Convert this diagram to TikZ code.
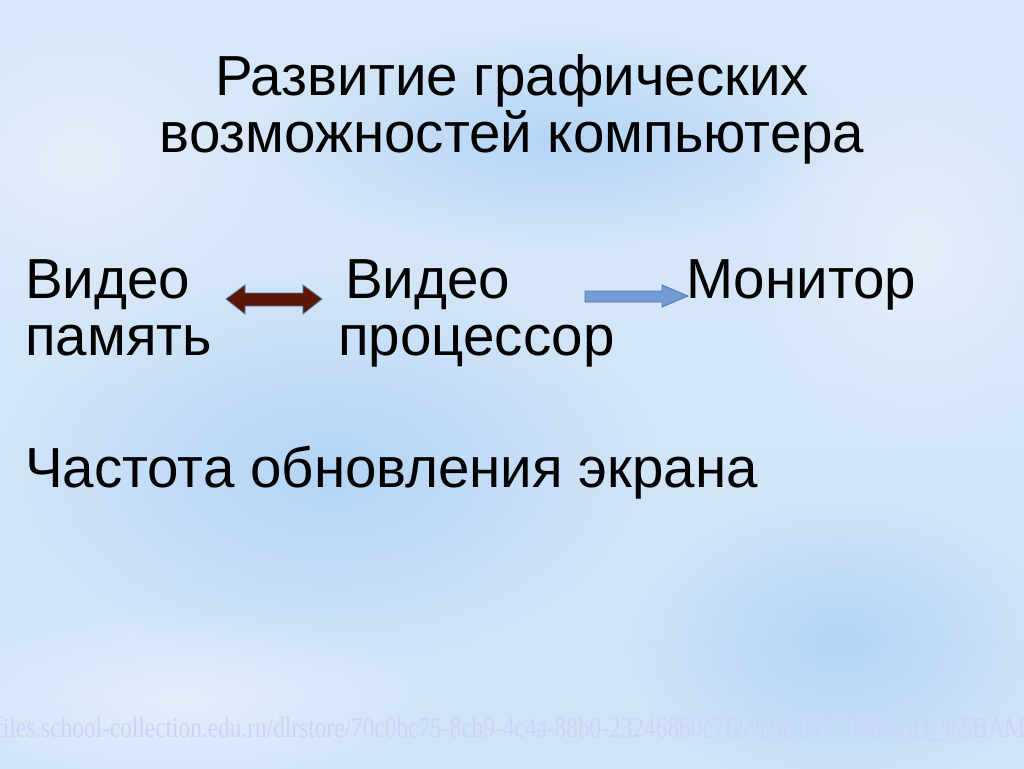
\documentclass[tikz,border=0pt]{standalone}
\usepackage{fontspec}
\setmainfont{Liberation Sans}
\newfontfamily\markfont{Liberation Serif}
\usetikzlibrary{positioning, fadings}
\definecolor{skytop}{RGB}{214,231,248}
\definecolor{skymid}{RGB}{196,221,246}
\definecolor{skybot}{RGB}{208,228,248}
\definecolor{skydeep}{RGB}{172,208,246}
\definecolor{skylight}{RGB}{232,241,251}
\definecolor{brownarrow}{RGB}{92,22,6}
\definecolor{bluearrow}{RGB}{115,156,212}
\definecolor{blueedge}{RGB}{80,120,180}
\definecolor{markcol}{RGB}{206,211,250}
\tikzfading[name=softblob, inner color=transparent!20, outer color=transparent!100]
\tikzset{
  bigtext/.style={font=\fontsize{56.5}{62}\selectfont, inner sep=0pt, anchor=base west},
  titletext/.style={bigtext, anchor=base},
  urltext/.style={font=\markfont\fontsize{29}{30}\selectfont, text=markcol, inner sep=0pt, anchor=base west, xscale=0.805},
  cloud/.style={path fading=softblob},
}

\begin{document}
\begin{tikzpicture}[x=1pt,y=-1pt]
    \useasboundingbox (0,0) rectangle (1024,768);
    % sky background
    \shade[top color=skytop, middle color=skymid, bottom color=skybot] (0,0) rectangle (1024,768);
    \fill[skydeep, cloud] (330,470) ellipse (330 and 200);
    \fill[skydeep, cloud] (840,640) ellipse (220 and 150);
    \fill[skydeep, cloud] (560,140) ellipse (300 and 110);
    \fill[skylight, cloud] (80,160) ellipse (200 and 160);
    \fill[skylight, cloud] (920,250) ellipse (180 and 200);
    \fill[skylight, cloud] (180,700) ellipse (260 and 90);

    % title
    \node[titletext] (title1) at (512,95) {Развитие графических};
    \node[titletext] (title2) at (512,152) {возможностей компьютера};

    % chain
    \node[bigtext] (mem1) at (25,298) {Видео};
    \node[bigtext] (mem2) at (25,355) {память};
    \node[bigtext] (gpu1) at (345,298) {Видео};
    \node[bigtext] (gpu2) at (338,355) {процессор};
    \node[bigtext] (mon) at (686,298) {Монитор};

    \node[bigtext] (rate) at (25,487) {Частота обновления экрана};

    % block arrows
    \filldraw[fill=brownarrow, draw=blueedge, line width=0.8pt]
        (226,299) -- (245,285) -- (245,293) -- (303,293) -- (303,285) -- (322,299)
        -- (303,314) -- (303,306) -- (245,306) -- (245,314) -- cycle;
    \filldraw[fill=bluearrow, draw=blueedge, line width=0.8pt]
        (585,291) -- (662,291) -- (662,285) -- (688,296) -- (662,307) -- (662,302)
        -- (585,302) -- cycle;

    % source line
    \node[urltext] (url) at (-5,737) {files.school-collection.edu.ru/dlrstore/70c0bc75-8cb9-4c4a-88b0-23246860c7f2/\%5BINF\_028\%5D\_\%5BAM};
\end{tikzpicture}
\end{document}
